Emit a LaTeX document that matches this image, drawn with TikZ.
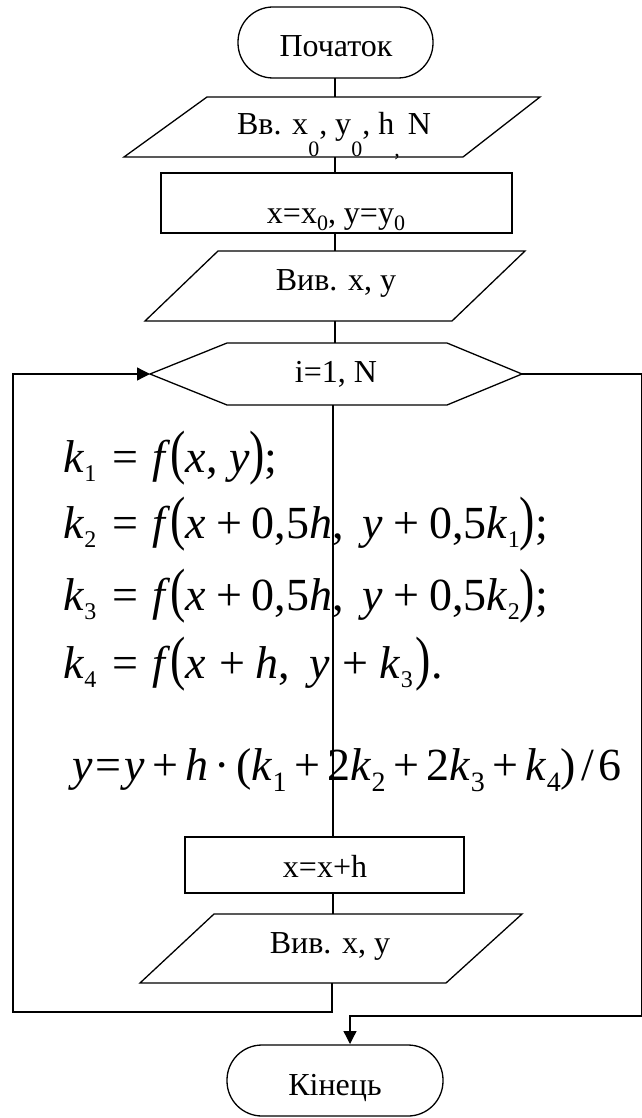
\documentclass[tikz,border=0pt]{standalone}
\usepackage{fontspec}
\usepackage{graphicx}
\setmainfont{Liberation Serif}
\usetikzlibrary{arrows.meta}
\newcommand\mi[1]{\textit{#1}}
\newcommand\ksb[1]{\raisebox{-9pt}{\fontsize{24}{24}\selectfont #1}}
\newcommand\ysb[1]{\raisebox{-11pt}{\fontsize{28}{28}\selectfont #1}}
\newcommand\bp[1]{\scalebox{1}[1.3]{#1}}
\newcommand\lsub[1]{\raisebox{-22pt}{\fontsize{22}{22}\selectfont #1}}
\newcommand\ssub[1]{\raisebox{-7pt}{\fontsize{22}{22}\selectfont #1}}
\newcommand\pl{\hspace{10pt}+\hspace{10pt}}
\newcommand\eq{\hspace{16pt}=\hspace{14pt}}
\newcommand\cm{,\hspace{19pt}}
\newcommand\yp{\hspace{7.5pt}+\hspace{7.5pt}}
\begin{document}
\begin{tikzpicture}[x=1pt,y=-1pt,
  blk/.style={draw=black, line width=1.3pt, line join=miter},
  conn/.style={draw=black, line width=1.3pt},
  arr/.style={-{Triangle[length=13pt,width=13pt]}},
  lbl/.style={inner sep=0pt, anchor=base, font=\fontsize{32}{36}\selectfont},
  frm/.style={inner sep=0pt, anchor=base west, font=\fontsize{46}{50}\selectfont}]
\useasboundingbox (0,0) rectangle (641,1118);

% shapes
\draw[blk, rounded corners=35pt] (238,7) rectangle (433,78);
\draw[blk] (207,97) -- (540,97) -- (463,157) -- (124,157) -- cycle;
\draw[blk] (161,173) rectangle (512,233);
\draw[blk] (218,251) -- (525,251) -- (452,321) -- (145,321) -- cycle;
\draw[blk] (150,374) -- (227,343) -- (447,343) -- (522,374) -- (447,405) -- (227,405) -- cycle;
\draw[blk] (185,837) rectangle (464,893);
\draw[blk] (214,914) -- (522,914) -- (446,983) -- (140,983) -- cycle;
\draw[blk, rounded corners=35pt] (227,1045) rectangle (443,1116);

% labels
\node[lbl] (tStart) at (336,57) {Початок};
\node[lbl] (tIn) at (334,135) {Вв. x\lsub{0}, y\lsub{0}, h\lsub{,} N};
\node[lbl] (tInit) at (336,223) {x=x\ssub{0}, y=y\ssub{0}};
\node[lbl] (tOut1) at (336,290) {Вив. x, y};
\node[lbl] (tLoop) at (336,382) {i=1, N};
\node[lbl] (tStep) at (325,877) {x=x+h};
\node[lbl] (tOut2) at (330,953) {Вив. x, y};
\node[lbl] (tEnd) at (335,1095) {Кінець};

% formulas
\node[frm] (f1) at (63,472) {\mi{k}\ksb{1}\eq\mi{f}\bp{(}\mi{x}, \mi{y}\bp{)};};
\node[frm] (f2) at (63,538) {\mi{k}\ksb{2}\eq\mi{f}\bp{(}\mi{x}\pl 0,5\mi{h}\cm\mi{y}\pl 0,5\mi{k}\ksb{1}\bp{)};};
\node[frm] (f3) at (63,610) {\mi{k}\ksb{3}\eq\mi{f}\bp{(}\mi{x}\pl 0,5\mi{h}\cm\mi{y}\pl 0,5\mi{k}\ksb{2}\bp{)};};
\node[frm] (f4) at (63,678) {\mi{k}\ksb{4}\eq\mi{f}\bp{(}\mi{x}\hspace{13pt}+\hspace{11pt}\mi{h}\cm\mi{y}\hspace{13pt}+\hspace{11pt}\mi{k}\ksb{3}\hspace{3pt}\bp{)}.};
\node[frm] (f5) at (72,780) {\mi{y}\hspace{3pt}=\hspace{3pt}\mi{y}\yp\mi{h}\hspace{6pt}·\hspace{6pt}(\mi{k}\ysb{1}\yp 2\mi{k}\ysb{2}\yp 2\mi{k}\ysb{3}\yp\mi{k}\ysb{4})\hspace{5pt}/\hspace{5pt}6};

% connection points
\coordinate (sB) at (335,78);
\coordinate (p1T) at (335,97);
\coordinate (p1B) at (335,157);
\coordinate (r1T) at (335,173);
\coordinate (r1B) at (335,233);
\coordinate (p2T) at (335,251);
\coordinate (p2B) at (335,321);
\coordinate (hT) at (335,343);
\coordinate (hB) at (333,405);
\coordinate (hL) at (150,374);
\coordinate (hR) at (522,374);
\coordinate (r2T) at (333,837);
\coordinate (r2B) at (333,893);
\coordinate (p3T) at (333,914);
\coordinate (p3B) at (332,983);
\coordinate (eT) at (350,1044);

% connectors
\draw[conn] (sB) -- (p1T);
\draw[conn] (p1B) -- (r1T);
\draw[conn] (r1B) -- (p2T);
\draw[conn] (p2B) -- (hT);
\draw[conn] (hB) -- (r2T);
\draw[conn] (r2B) -- (p3T);
\draw[conn,arr] (p3B) -- (332,1012) -- (13,1012) -- (13,374) -- (hL);
\draw[conn,arr] (hR) -- (642,374) -- (642,1016) -- (350,1016) -- (eT);
\end{tikzpicture}
\end{document}
